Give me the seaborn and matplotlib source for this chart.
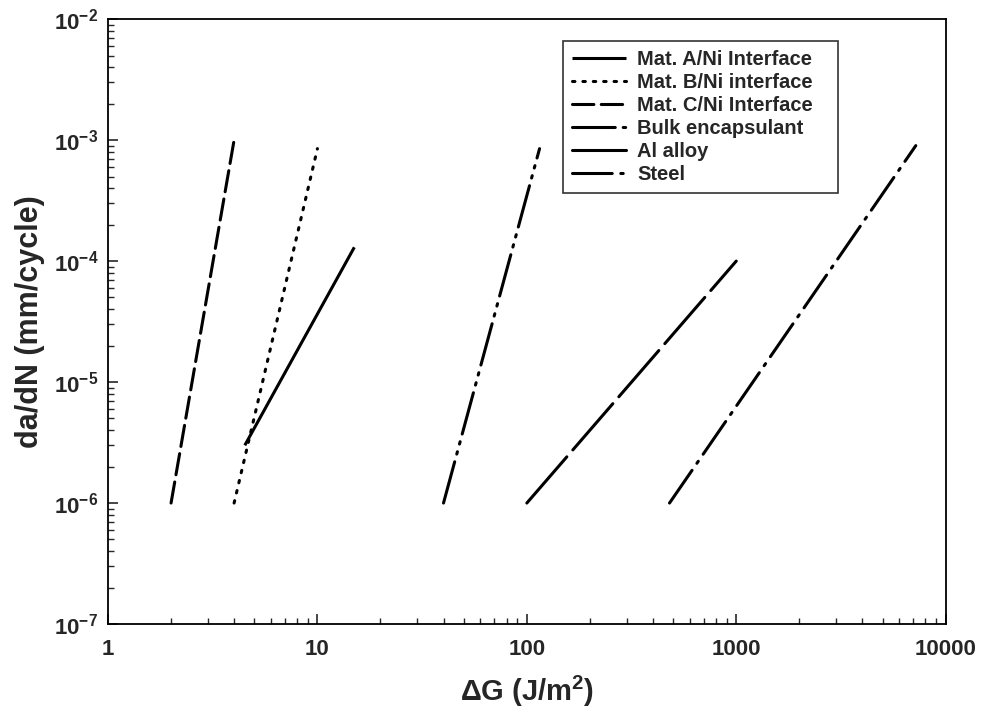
"""Fatigue crack growth rate vs. strain energy release rate range."""
import numpy as np
import pandas as pd
import matplotlib
matplotlib.use("Agg")
import matplotlib.pyplot as plt
from matplotlib.ticker import LogLocator, FixedLocator, NullFormatter
import seaborn as sns

# series endpoints (straight lines on log-log axes)
labels = ["Mat. A/Ni Interface", "Mat. B/Ni interface", "Mat. C/Ni Interface",
          "Bulk encapsulant", "Al alloy", "Steel"]
dG_start = [4.5, 4.0, 2.0, 40.0, 100.0, 480.0]
dG_end = [15.0, 10.0, 4.0, 115.0, 1000.0, 7200.0]
rate_start = [3.0e-6, 1.0e-6, 1.0e-6, 1.0e-6, 1.0e-6, 1.0e-6]
rate_end = [1.3e-4, 8.5e-4, 1.0e-3, 8.5e-4, 1.0e-4, 9.0e-4]

x_ticks = [1, 10, 100, 1000, 10000]
x_tick_labels = ["1", "10", "100", "1000", "10000"]
y_ticks = [1e-7, 1e-6, 1e-5, 1e-4, 1e-3, 1e-2]
y_tick_labels = [r"10$^{-7}$", r"10$^{-6}$", r"10$^{-5}$", r"10$^{-4}$",
                 r"10$^{-3}$", r"10$^{-2}$"]

line_styles = [
    "-",
    (0, (0.8, 2.6)),
    (0, (7, 2.4)),
    (0, (14, 2.6, 0.8, 2.6, 0.8, 2.6)),
    (0, (20, 3)),
    (0, (13, 2.8, 0.8, 2.8)),
]

sns.set_style("ticks")
plt.rcParams["font.family"] = ["Liberation Sans", "DejaVu Sans"]
plt.rcParams["font.weight"] = "bold"
plt.rcParams["mathtext.fontset"] = "custom"
plt.rcParams["mathtext.rm"] = "Liberation Sans:bold"
plt.rcParams["mathtext.it"] = "Liberation Sans:bold"
plt.rcParams["mathtext.bf"] = "Liberation Sans:bold"

fig = plt.figure(figsize=(9.82, 7.21), dpi=100)
ax = fig.add_axes([0.110, 0.1345, 0.853, 0.839])

for i, lab in enumerate(labels):
    df = pd.DataFrame({"dG": [dG_start[i], dG_end[i]],
                       "rate": [rate_start[i], rate_end[i]]})
    sns.lineplot(data=df, x="dG", y="rate", ax=ax, color="black", lw=2.2,
                 linestyle=line_styles[i], label=lab, solid_capstyle="butt",
                 dash_capstyle="round")

ax.set_xscale("log")
ax.set_yscale("log")
ax.set_xlim(1, 10000)
ax.set_ylim(1e-7, 1e-2)

ax.xaxis.set_major_locator(FixedLocator(x_ticks))
ax.set_xticklabels(x_tick_labels)
ax.yaxis.set_major_locator(FixedLocator(y_ticks))
ax.set_yticklabels(y_tick_labels)
ax.xaxis.set_minor_locator(LogLocator(base=10, subs=np.arange(2, 10), numticks=20))
ax.yaxis.set_minor_locator(LogLocator(base=10, subs=np.arange(2, 10), numticks=20))
ax.xaxis.set_minor_formatter(NullFormatter())
ax.yaxis.set_minor_formatter(NullFormatter())

ax.tick_params(which="major", direction="in", length=7, width=1.2,
               labelsize=16, pad=7, top=False, right=False)
ax.tick_params(axis="x", which="major", pad=11)
ax.tick_params(which="minor", direction="in", length=4, width=1,
               top=False, right=False)
for s in ax.spines.values():
    s.set_linewidth(1.3)
    s.set_color("black")

ax.set_xlabel(r"$\Delta$G (J/m$^2$)", fontsize=21, fontweight="bold", labelpad=10)
ax.set_ylabel("da/dN (mm/cycle)", fontsize=22, fontweight="bold", labelpad=6)

# legend box spans a fixed width, text left-aligned with space on the right
leg = ax.legend(loc="upper left", bbox_to_anchor=(0.543, 0.7, 0.328, 0.2636),
                mode="expand", fontsize=14.5,
                frameon=True, fancybox=False, edgecolor="black",
                handlelength=2.7, handletextpad=0.55, labelspacing=0.2,
                borderpad=0.45, borderaxespad=0)
leg.get_frame().set_linewidth(1.2)

fig.savefig("out.png", dpi=100)
